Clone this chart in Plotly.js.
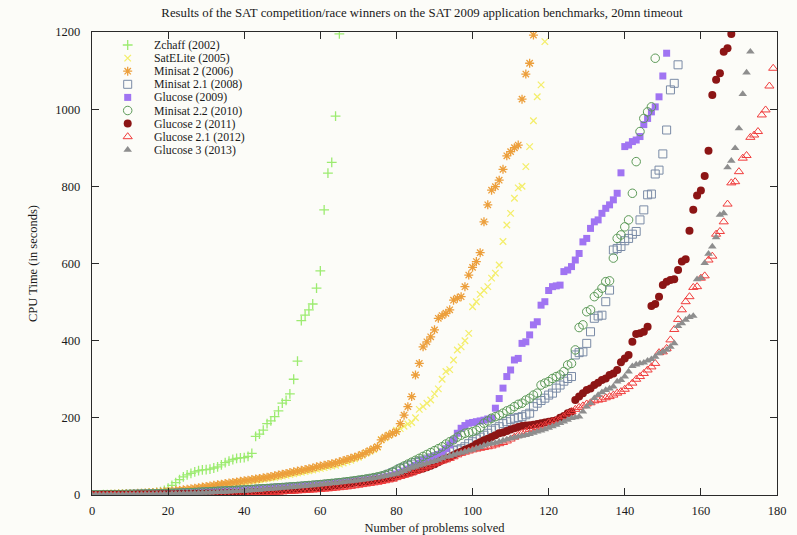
<!DOCTYPE html>
<html><head><meta charset="utf-8">
<script src="https://cdn.plot.ly/plotly-3.0.1.min.js"></script>
<style>html,body{margin:0;padding:0;background:#fcfcf8;} #chart{width:797px;height:535px;}</style>
</head><body><div id="chart"></div>
<script>
// ---- data: CPU time (s) of the k-th solved problem, k = array index ----
const seriesNames = ['Zchaff (2002)','SatELite (2005)','Minisat 2 (2006)','Minisat 2.1 (2008)','Glucose (2009)','Minisat 2.2 (2010)','Glucose 2 (2011)','Glucose 2.1 (2012)','Glucose 3 (2013)'];

const zchaff = [0.3,0.4,0.5,0.6,0.8,1.0,1.2,1.4,1.6,1.9, 2.2,2.5,2.9,3.3,3.8,4.5,5.5,7,9,12,
 18,25,32,40,47,52,56,60,63,65, 66,67,70,73,78,84,88,92,95,96,
 97,100,108,152,158,168,185,192,203,218, 238,245,262,300,347,452,466,480,495,536,
 581,739,834,862,982,1195];

const satelite = [0.5,0.7,0.9,1.1,1.3,1.5,1.8,2.1,2.4,2.7, 3.0,3.3,3.6,4.0,4.4,4.8,5.2,5.7,6.2,6.8,
 7.5,8.2,9,10,11,12,13,14,15.5,17, 18.5,20,21.5,23,24.5,26,27.5,29,30.5,32,
 33.5,35,36.5,38,39.5,41,42.5,44,45.5,47, 49,51,53,55,57,59,61,63,65,67,
 69,71,73,75,77,80,83,86,90,94, 98,103,108,113,118,124,143,148,155,160,
 168,172,178,184,188,200,222,229,238,246, 262,275,300,320,325,350,376,384,400,419,
 488,501,520,530,540,562,575,596,657,700, 730,769,796,800,851,903,970,1032,1063,1175];

const minisat2 = [0.6,0.8,1.0,1.3,1.6,1.9,2.2,2.5,2.8,3.1, 3.5,3.9,4.3,4.8,5.3,5.8,6.4,7,7.7,8.5,
 9.3,10.2,11.2,12.3,13.5,14.8,16,17.5,19,20.5, 22,23.5,25,26.5,28,29.5,31,32.5,34,35.5,
 37,38.5,40,41.5,43,44.5,46,48,50,52, 54,56,58,60,62,64,66,68,70,73,
 75,77,79,81,83,86,89,92,95,98, 101,105,110,115,120,125,143,150,155,160,
 164,185,207,229,255,311,341,384,397,410, 428,458,465,471,480,505,510,514,540,570,
 590,605,628,708,752,790,799,816,844,879, 890,900,907,1026,1091,1119,1192];

const minisat21 = [0.3,0.4,0.5,0.6,0.7,0.8,0.9,1.0,1.2,1.4, 1.6,1.8,2.0,2.2,2.4,2.6,2.8,3.0,3.3,3.6,
 3.9,4.2,4.5,4.9,5.3,5.7,6.1,6.5,7.0,7.5, 8,8.5,9,9.5,10,10.5,11,11.5,12,12.5,
 13,13.6,14.2,14.8,15.4,16,16.6,17.2,17.8,18.4, 19,19.7,20.4,21.1,21.8,22.5,23.2,24,24.8,25.6,
 26.5,27.4,28.3,29.2,30.2,31.2,32.3,33.4,34.6,35.8, 37,38.5,40,41.5,43,45,47,50,54,58,
 62,68,72,76,80,84,87,90,93,96, 99,102,105,108,112,115,117,120,125,133,
 138,145,150,155,160,168,172,177,185,190, 196,199,201,203,208,212,229,238,245,251,
 259,264,277,285,295,302,307,363,369,371, 393,423,458,464,466,501,531,635,639,644,
 659,665,676,683,713,739,778,780,832,842, 884,946,1050,1067,1115];

const glucose = [0.3,0.4,0.5,0.6,0.7,0.8,0.9,1.0,1.1,1.3, 1.5,1.7,1.9,2.1,2.3,2.5,2.7,3.0,3.3,3.6,
 3.9,4.2,4.5,4.8,5.2,5.6,6.0,6.4,6.8,7.3, 7.8,8.3,8.8,9.3,9.8,10.3,10.8,11.3,11.8,12.4,
 13,13.6,14.2,14.8,15.4,16,16.6,17.3,18,18.7, 19.4,20.1,20.8,21.5,22.2,23,23.8,24.6,25.4,26.2,
 27,27.8,28.6,29.4,30.3,31.2,32.1,33,34,35, 36,37.2,38.4,39.6,41,42.5,44,46,48,51,
 54,58,62,67,72,77,82,87,92,96, 100,105,112,120,130,143,160,173,180,186,
 188,190,192,194,197,199,225,250,277,307, 324,350,354,393,397,415,441,449,492,501,
 530,540,542,544,579,583,592,609,626,656, 665,691,708,713,730,743,752,765,782,835,
 903,907,916,920,929,960,976,993,1006,1032,1086,1145];

const minisat22 = [0.4,0.5,0.6,0.7,0.8,0.9,1.0,1.1,1.3,1.5, 1.7,1.9,2.1,2.3,2.5,2.7,2.9,3.1,3.4,3.7,
 4.0,4.3,4.6,5.0,5.4,5.8,6.2,6.6,7.1,7.6, 8.1,8.6,9.1,9.6,10.1,10.6,11.1,11.6,12.1,12.6,
 13.2,13.8,14.4,15,15.6,16.2,16.8,17.4,18,18.7, 19.4,20.1,20.8,21.5,22.2,23,23.8,24.6,25.4,26.2,
 27,28,29,30,31,32,33.2,34.4,35.6,37, 38.5,40,41.5,43,45,47,49,52,55,60,
 65,70,75,80,85,90,95,100,105,110, 115,120,125,132,138,143,150,155,160,162,
 164,168,175,186,192,199,203,207,212,218, 222,229,235,238,246,251,259,264,285,290,
 294,302,307,311,320,337,341,376,434,441, 475,480,514,523,536,553,555,614,665,674,
 695,713,782,864,942,976,993,1006,1132];

const glucose2 = [0.2,0.25,0.3,0.35,0.4,0.45,0.5,0.55,0.6,0.7, 0.8,0.9,1.0,1.1,1.2,1.3,1.4,1.5,1.65,1.8,
 1.95,2.1,2.25,2.4,2.55,2.7,2.85,3.0,3.2,3.4, 3.6,3.8,4.0,4.2,4.4,4.6,4.9,5.2,5.5,5.8,
 6,6.5,7,7.5,8,8.6,9.2,9.8,10.4,11, 11.6,12.3,13,13.8,14.6,15.4,16.2,17,18,19,
 20,21,22,23.5,25,26,27,28.5,30,31.5, 33,34,35,36.5,38,39.5,41,42.5,44,46,
 48,51,54,57,60,63,66,69,72,76, 80,85,90,94,98,103,108,112,117,121,
 126,132,137,142,146,150,155,160,162,166, 170,173,176,179,180,181,182,184,186,188,
 190,192,194,200,205,212,216,246,255,264, 272,276,285,291,298,302,311,315,324,344,
 354,363,397,417,419,423,436,490,495,514, 544,553,557,559,583,605,611,685,739,776,
 789,827,892,1037,1076,1093,1149,1158,1195];

const glucose21 = [0.1,0.12,0.15,0.18,0.2,0.22,0.25,0.28,0.3,0.35, 0.4,0.45,0.5,0.55,0.6,0.65,0.7,0.75,0.8,0.9,
 1.0,1.1,1.2,1.3,1.4,1.5,1.6,1.7,1.85,2.0, 2.15,2.3,2.5,2.7,2.9,3.1,3.3,3.5,3.8,4.1,
 4.4,4.7,5,5.4,5.8,6.2,6.6,7,7.5,8, 8.5,9,9.5,10,10.6,11.2,11.8,12.4,13,13.7,
 14.4,15.2,16,17,18,19,20,21,22.5,24, 25.5,27,28.5,30,31.5,33,35,37,39,41,
 45,48,51,54,57,61,65,69,73,77, 81,85,88,91,95,99,104,108,111,114,
 117,119,121,123,125,127,130,133,136,140, 145,150,155,160,165,170,173,175,178,181,
 187,190,193,196,203,210,216,222,227,231, 236,239,244,246,248,252,255,259,264,268,
 274,281,290,300,307,315,324,332,341,369, 371,380,402,429,455,480,501,514,538,540,
 562,568,609,619,676,683,708,754,809,812, 838,873,880,927,933,942,985,998,1060,1106];

const glucose3 = [0.3,0.35,0.4,0.45,0.5,0.6,0.7,0.8,0.9,1.0, 1.1,1.2,1.35,1.5,1.65,1.8,2.0,2.2,2.4,2.6,
 2.8,3.0,3.3,3.6,3.9,4.2,4.5,4.8,5.2,5.6, 6.0,6.4,6.8,7.2,7.7,8.2,8.7,9.2,9.8,10.4,
 11,11.6,12.2,12.9,13.6,14.3,15,15.8,16.6,17.4, 18.2,19,19.8,20.6,21.5,22.4,23.3,24.2,25.1,26,
 27,28,29,30,31,32,33.2,34.4,35.6,36.8, 38,39.3,40.6,42,43.5,45,47,49,51,53,
 55,58,62,66,70,73,76,79,82,85, 88,91,95,99,101,104,107,109,112,115,
 117,121,124,128,131,133,135,138,141,144, 147,149,151,153,155,158,161,164,167,170,
 174,178,182,186,190,195,199,201,203,216, 229,238,251,259,266,272,276,281,294,298,
 307,320,334,338,341,343,348,352,358,367, 371,376,384,393,438,445,454,461,464,559,
 562,601,625,644,668,726,730,849,866,899, 950,1039,1095,1149];

const allSeries = [zchaff, satelite, minisat2, minisat21, glucose, minisat22, glucose2, glucose21, glucose3];
const xTicks = [0,20,40,60,80,100,120,140,160,180];
const yTicks = [0,200,400,600,800,1000,1200];

// ---- styles ----
const styles = [
  {symbol:'cross-thin-open', color:'#9ceb70', size:7, open:true, lw:1.3},
  {symbol:'x-thin-open', color:'#f4ee6c', size:6.5, open:true, lw:1.3},
  {symbol:'asterisk-open', color:'#ec9f3c', size:7.5, open:true, lw:1.3},
  {symbol:'square-open', color:'#7a8ba6', size:8, open:true, lw:1},
  {symbol:'square', color:'#a074f2', size:7, open:false},
  {symbol:'circle-open', color:'#5c9a58', size:8.5, open:true, lw:1},
  {symbol:'circle', color:'#8c1515', size:8, open:false},
  {symbol:'triangle-up-open', color:'#f03c3c', size:8, open:true, lw:1},
  {symbol:'triangle-up', color:'#8e8e8e', size:7.5, open:false}
];
function mk(s){
  return s.open ? {symbol:s.symbol, size:s.size, color:s.color, line:{color:s.color, width:s.lw}}
                : {symbol:s.symbol, size:s.size, color:s.color, line:{width:0}};
}
const FONT = 'Liberation Serif, Times New Roman, serif';
const traces = allSeries.map((ys,i)=>({
  type:'scatter', mode:'markers', name:seriesNames[i],
  x: ys.map((v,k)=>k), y: ys, marker: mk(styles[i]), hoverinfo:'skip', showlegend:false
}));

// custom legend (gnuplot style, tight rows)
const L = {w:685, h:463, l:92, b:495, keyX:127.7, textX:153, row0:45, dy:13.1};
const annotations = [];
seriesNames.forEach((nm,i)=>{
  const py = L.row0 + i*L.dy;
  traces.push({type:'scatter', mode:'markers', xaxis:'x2', yaxis:'y2',
    x:[(L.keyX-L.l)/L.w], y:[(L.b-py)/L.h], marker: mk(styles[i]), hoverinfo:'skip', showlegend:false});
  annotations.push({xref:'paper', yref:'paper', x:(L.textX-L.l)/L.w, y:(L.b-py)/L.h, xanchor:'left', yanchor:'middle',
    text:nm, showarrow:false, borderpad:0, font:{family:FONT, size:11.8, color:'#1a1a1a'}});
});

const axisCommon = {showline:true, linecolor:'#2a2a2a', linewidth:1.3, mirror:'ticks', ticks:'inside', ticklen:7,
  tickcolor:'#2a2a2a', tickwidth:1.2, showgrid:false, zeroline:false, tickfont:{family:FONT, size:12.5, color:'#1a1a1a'}};
const layout = {
  width:797, height:535, margin:{l:92, r:20, t:32, b:40},
  paper_bgcolor:'#fcfcf8', plot_bgcolor:'#fcfcf8', showlegend:false,
  title:{text:'Results of the SAT competition/race winners on the SAT 2009 application benchmarks, 20mn timeout',
    font:{family:FONT, size:12.8, color:'#1a1a1a'}, x:422/797, xref:'container', xanchor:'center', y:1-13/535, yref:'container', yanchor:'middle'},
  xaxis: Object.assign({}, axisCommon, {range:[0,180], tickvals:xTicks, ticklabelstandoff:4,
    title:{text:'Number of problems solved', font:{family:FONT, size:12.5, color:'#1a1a1a'}, standoff:6}}),
  yaxis: Object.assign({}, axisCommon, {range:[0,1200], tickvals:yTicks, ticklabelstandoff:8,
    title:{text:'CPU Time (in seconds)', font:{family:FONT, size:12.5, color:'#1a1a1a'}, standoff:14}}),
  xaxis2:{overlaying:'x', range:[0,1], visible:false, fixedrange:true},
  yaxis2:{overlaying:'y', range:[0,1], visible:false, fixedrange:true},
  annotations: annotations
};
Plotly.newPlot('chart', traces, layout, {displayModeBar:false, staticPlot:true});
</script></body></html>
